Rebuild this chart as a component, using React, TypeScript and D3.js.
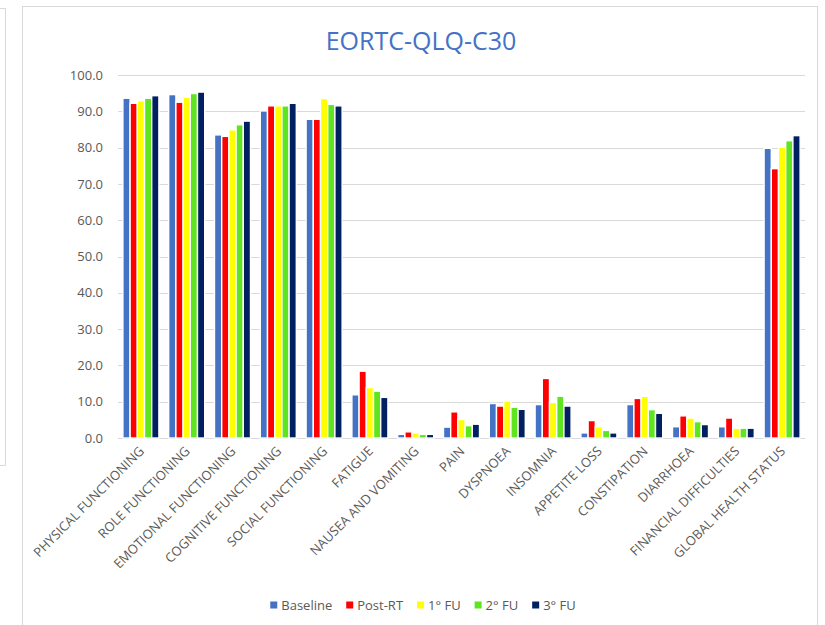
import React from "react";
import * as d3 from "d3";

const categories = [
  "PHYSICAL FUNCTIONING",
  "ROLE FUNCTIONING",
  "EMOTIONAL FUNCTIONING",
  "COGNITIVE FUNCTIONING",
  "SOCIAL FUNCTIONING",
  "FATIGUE",
  "NAUSEA AND VOMITING",
  "PAIN",
  "DYSPNOEA",
  "INSOMNIA",
  "APPETITE LOSS",
  "CONSTIPATION",
  "DIARRHOEA",
  "FINANCIAL DIFFICULTIES",
  "GLOBAL HEALTH STATUS",
];

const seriesNames = ["Baseline", "Post-RT", "1° FU", "2° FU", "3° FU"];
const seriesColors = ["#4472C4", "#FF0000", "#FFFF00", "#5FE51F", "#002060"];

const baseline = [93.6, 94.6, 83.5, 90.1, 87.8, 11.9, 1.0, 3.0, 9.5, 9.2, 1.4, 9.2, 3.1, 3.1, 79.8];
const postRT = [92.2, 92.5, 83.1, 91.5, 87.8, 18.4, 1.7, 7.2, 8.8, 16.4, 4.8, 10.9, 6.1, 5.5, 74.2];
const fu1 = [92.9, 93.9, 84.9, 91.5, 93.5, 13.9, 1.4, 5.1, 10.2, 9.8, 3.1, 11.5, 5.5, 2.7, 80.1];
const fu2 = [93.6, 94.9, 86.3, 91.5, 91.9, 12.9, 1.0, 3.4, 8.5, 11.5, 2.1, 7.8, 4.5, 2.7, 81.9];
const fu3 = [94.3, 95.3, 87.3, 92.2, 91.5, 11.2, 1.0, 3.8, 7.9, 8.8, 1.4, 6.8, 3.7, 2.7, 83.3];

const seriesValues = [baseline, postRT, fu1, fu2, fu3];
const yTicks = [0, 10, 20, 30, 40, 50, 60, 70, 80, 90, 100];

const W = 825;
const H = 625;
const FONT = "'Open Sans', sans-serif";
const TEXT = "#595959";
const GRID = "#D9D9D9";

function measure(text: string, font: string): number {
  const c = document.createElement("canvas");
  const ctx = c.getContext("2d");
  if (!ctx) return text.length * 7;
  ctx.font = font;
  return ctx.measureText(text).width;
}

export default function App() {
  const x0 = d3
    .scaleBand<string>()
    .domain(categories)
    .range([118, 805])
    .paddingInner(0.214)
    .paddingOuter(0.107);
  const x1 = d3
    .scaleBand<string>()
    .domain(seriesNames)
    .range([0, x0.bandwidth()])
    .padding(0);
  const y = d3.scaleLinear().domain([0, 100]).range([438, 75]);

  // legend layout
  const legFont = `13px 'Open Sans'`;
  const sq = 7;
  const sqGap = 4;
  const itemGap = 14;
  const widths = seriesNames.map((s) => sq + sqGap + measure(s, legFont));
  const total = d3.sum(widths) + itemGap * (widths.length - 1);
  let lx = 423 - total / 2;
  const legendPos = widths.map((w) => {
    const p = lx;
    lx += w + itemGap;
    return p;
  });

  return (
    <svg
      width={W}
      height={H}
      style={{ position: "absolute", left: 0, top: 0, background: "#fff" }}
      fontFamily={FONT}
    >
      <rect x={0} y={0} width={W} height={H} fill="#fff" />
      {/* left neighbour panel edge */}
      <path d="M0,8.5 H5.5 V465.5 H0" fill="none" stroke={GRID} strokeWidth={1} />
      {/* chart frame */}
      <rect x={22.5} y={6.5} width={795} height={700} fill="#fff" stroke={GRID} strokeWidth={1} />

      <text x={421} y={50} textAnchor="middle" fontSize={25} fill="#4472C4">
        EORTC-QLQ-C30
      </text>

      {yTicks.map((t) => (
        <g key={t}>
          <line x1={118} x2={805} y1={Math.round(y(t)) + 0.5} y2={Math.round(y(t)) + 0.5} stroke={GRID} strokeWidth={1} />
          <text x={103} y={y(t)} dy="0.36em" textAnchor="end" fontSize={13} fill={TEXT}>
            {d3.format(".1f")(t)}
          </text>
        </g>
      ))}

      {categories.map((c, i) => (
        <g key={c} transform={`translate(${x0(c)},0)`}>
          {seriesNames.map((s, j) => {
            const v = seriesValues[j][i];
            return (
              <rect
                key={s}
                x={x1(s)}
                y={y(v)}
                width={x1.bandwidth()}
                height={y(0) - y(v)}
                fill={seriesColors[j]}
                stroke="#fff"
                strokeWidth={1.4}
              />
            );
          })}
        </g>
      ))}

      {categories.map((c) => {
        const cx = (x0(c) as number) + x0.bandwidth() / 2 + 4;
        const cy = 452;
        return (
          <text
            key={c}
            transform={`translate(${cx},${cy}) rotate(-45)`}
            textAnchor="end"
            fontSize={13}
            fill={TEXT}
          >
            {c}
          </text>
        );
      })}

      {seriesNames.map((s, j) => (
        <g key={s} transform={`translate(${legendPos[j]},0)`}>
          <rect x={0} y={601.5} width={sq} height={sq} fill={seriesColors[j]} />
          <text x={sq + sqGap} y={605} dy="0.36em" fontSize={13} fill={TEXT}>
            {s}
          </text>
        </g>
      ))}
    </svg>
  );
}
